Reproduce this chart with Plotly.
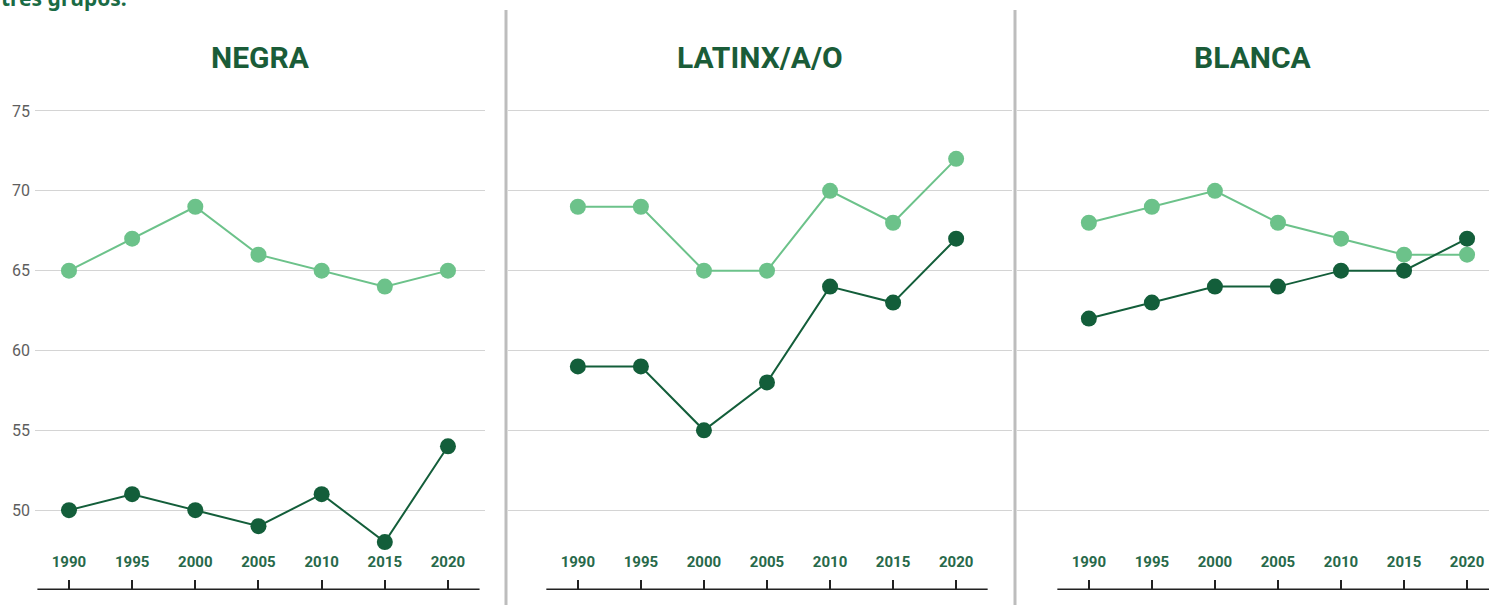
"""Tres paneles: tasa por grupo, 1990-2020."""
import plotly.graph_objects as go

W, H = 1489, 605

YEARS = [1990, 1995, 2000, 2005, 2010, 2015, 2020]
PANELS = ["NEGRA", "LATINX/A/O", "BLANCA"]

NEGRA_CLARO = [65, 67, 69, 66, 65, 64, 65]
NEGRA_OSCURO = [50, 51, 50, 49, 51, 48, 54]
LATINX_CLARO = [69, 69, 65, 65, 70, 68, 72]
LATINX_OSCURO = [59, 59, 55, 58, 64, 63, 67]
BLANCA_CLARO = [68, 69, 70, 68, 67, 66, 66]
BLANCA_OSCURO = [62, 63, 64, 64, 65, 65, 67]

Y_TICKS = [45, 50, 55, 60, 65, 70, 75]

COLOR_CLARO = "#6cc28a"
COLOR_OSCURO = "#135e3a"
COLOR_TITULO = "#1a5c38"
COLOR_TICK_X = "#27694a"
COLOR_GRID = "#d4d4d4"
COLOR_SEP = "#bdbdbd"

# pixel extents of each panel (gridline span) and their x ranges
DOMAINS_PX = [(35, 485), (508, 1012), (1017, 1489)]
X_RANGES = [(1987.31, 2022.93), (1984.46, 2024.43), (1984.3, 2021.74)]

# plot area top/bottom in pixels
TOP_PX, BOT_PX = 95, 590
M_TOP, M_BOT = TOP_PX, H - BOT_PX
PLOT_H = BOT_PX - TOP_PX


def py(px):
    """pixel row -> paper y"""
    return (BOT_PX - px) / PLOT_H


series = [
    (NEGRA_CLARO, NEGRA_OSCURO),
    (LATINX_CLARO, LATINX_OSCURO),
    (BLANCA_CLARO, BLANCA_OSCURO),
]

fig = go.Figure()

for i, (claro, oscuro) in enumerate(series):
    xa = "x" if i == 0 else f"x{i + 1}"
    ya = "y" if i == 0 else f"y{i + 1}"
    for vals, col in ((claro, COLOR_CLARO), (oscuro, COLOR_OSCURO)):
        fig.add_trace(go.Scatter(
            x=YEARS, y=vals, xaxis=xa, yaxis=ya,
            mode="lines+markers",
            line=dict(color=col, width=2),
            marker=dict(color=col, size=16),
            showlegend=False, hoverinfo="skip", cliponaxis=False,
        ))
    # baseline of each x axis
    fig.add_shape(type="line", xref=xa, yref=ya, x0=1987.5, x1=2022.5,
                  y0=45.05, y1=45.05, line=dict(color="#222222", width=1.5),
                  layer="above")
    # panel title
    fig.add_annotation(text=PANELS[i], xref=f"{xa} domain", yref="paper",
                       x=0.5, y=py(58), showarrow=False, yanchor="middle",
                       font=dict(family="Roboto, sans-serif", size=30,
                                 color=COLOR_TITULO, weight="bold"))

layout = dict(
    width=W, height=H,
    paper_bgcolor="white", plot_bgcolor="white",
    margin=dict(l=0, r=0, t=M_TOP, b=M_BOT),
    showlegend=False,
)

for i in range(3):
    sfx = "" if i == 0 else str(i + 1)
    d0, d1 = DOMAINS_PX[i]
    layout[f"xaxis{sfx}"] = dict(
        domain=[d0 / W, d1 / W], range=list(X_RANGES[i]),
        anchor=f"y{sfx}",
        tickvals=YEARS, ticktext=[str(y) for y in YEARS],
        ticks="inside", ticklen=10, tickwidth=1.5, tickcolor="#222222",
        ticklabelposition="inside", ticklabelstandoff=10,
        showgrid=False, zeroline=False, showline=False,
        tickfont=dict(family="Roboto, sans-serif", size=15,
                      color=COLOR_TICK_X, weight="bold"),
        fixedrange=True,
    )
    layout[f"yaxis{sfx}"] = dict(
        domain=[0, 1], range=[45, 76], anchor=f"x{sfx}",
        tickvals=Y_TICKS if i == 0 else Y_TICKS[1:],
        showticklabels=(i == 0), showgrid=True, gridcolor=COLOR_GRID, gridwidth=1,
        zeroline=False, showline=False, ticks="",
        tickfont=dict(family="Roboto, sans-serif", size=16, color="#5e5e5e"),
        ticklabelstandoff=4,
        fixedrange=True,
    )

fig.update_layout(**layout)

# vertical separators between panels
for xpx in (506, 1015):
    fig.add_shape(type="line", xref="paper", yref="paper",
                  x0=xpx / W, x1=xpx / W, y0=py(10), y1=py(610),
                  line=dict(color=COLOR_SEP, width=3))

# subtitle running off the top edge, as in the source crop
fig.add_annotation(text="tres grupos.", xref="paper", yref="paper",
                   x=-0.001, y=py(-18), xanchor="left", yanchor="top",
                   showarrow=False,
                   font=dict(family="Noto Sans, sans-serif", size=21, color="#1a6b45",
                             weight="bold"))

# page body has a default 8px margin; drop it so the figure fills the window
fig.write_html("out.html", config={"displayModeBar": False},
               post_script="document.body.style.margin='0';")
